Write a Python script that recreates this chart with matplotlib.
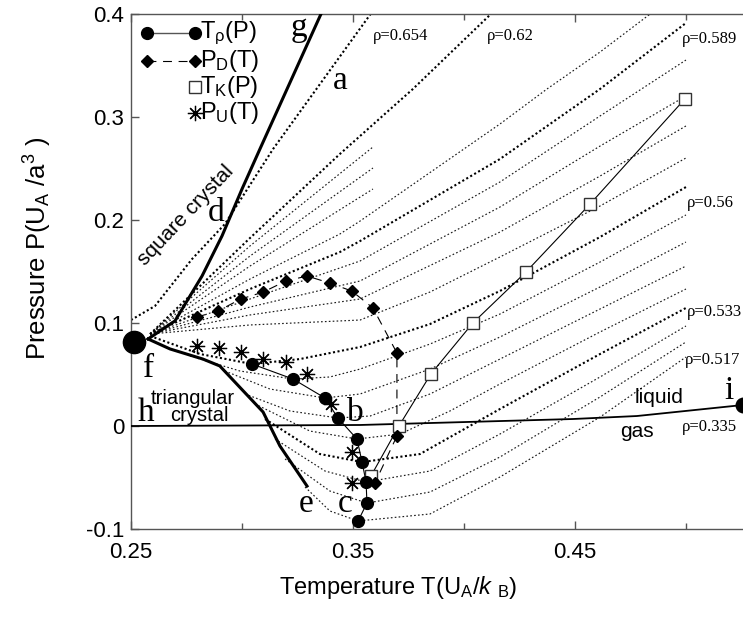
import matplotlib.pyplot as plt
from matplotlib.ticker import FixedLocator, FixedFormatter

plt.rcParams['font.family'] = ['Liberation Sans', 'DejaVu Sans']
plt.rcParams['mathtext.fontset'] = 'custom'
plt.rcParams['mathtext.rm'] = 'Liberation Sans'
plt.rcParams['mathtext.it'] = 'Liberation Sans:italic'
plt.rcParams['mathtext.bf'] = 'Liberation Sans:bold'

# --- isochores, (T, P) ---
iso_654 = [(0.2500, 0.1029), (0.2608, 0.1165), (0.2775, 0.1621), (0.2923, 0.1961),
           (0.3140, 0.2689), (0.3586, 0.4020)]
iso_620 = [(0.2586, 0.0893), (0.3036, 0.1825), (0.3441, 0.2641), (0.3770, 0.3272),
           (0.4131, 0.4020)]
iso_589 = [(0.2586, 0.0893), (0.3036, 0.1330), (0.3441, 0.1689), (0.3532, 0.1796),
           (0.4162, 0.2592), (0.4613, 0.3272), (0.5000, 0.3913)]
iso_560 = [(0.2586, 0.0874), (0.2811, 0.0699), (0.3045, 0.0602), (0.3261, 0.0650),
           (0.3532, 0.0767), (0.3847, 0.0990), (0.4162, 0.1311), (0.4613, 0.1835),
           (0.5000, 0.2320)]
iso_533 = [(0.3104, 0.0068), (0.3351, -0.0272), (0.3541, -0.0350), (0.3802, -0.0272),
           (0.4162, 0.0165), (0.4613, 0.0699), (0.5000, 0.1146)]
iso_517 = [(0.3284, -0.0592), (0.3396, -0.0825), (0.3523, -0.0922), (0.3847, -0.0854),
           (0.4162, -0.0495), (0.4613, 0.0087), (0.5000, 0.0670)]

# short high-density runs (stop at T = 0.36)
iso_s1 = [(0.2586, 0.0893), (0.3036, 0.1748), (0.3590, 0.2709)]
iso_s2 = [(0.2586, 0.0893), (0.3036, 0.1650), (0.3590, 0.2505)]
iso_s3 = [(0.2586, 0.0893), (0.3036, 0.1553), (0.3590, 0.2301)]

# intermediate isochores
iso_t1 = [(0.2586, 0.0893), (0.3036, 0.1427), (0.3441, 0.1864), (0.3532, 0.1990),
          (0.4162, 0.2932), (0.4374, 0.3272), (0.4613, 0.3631), (0.4851, 0.4020)]
iso_t2 = [(0.2586, 0.0893), (0.3036, 0.1233), (0.3532, 0.1602), (0.4162, 0.2369),
          (0.4613, 0.3010), (0.5000, 0.3553)]
iso_t3 = [(0.2586, 0.0893), (0.3036, 0.1155), (0.3532, 0.1408), (0.4162, 0.2126),
          (0.4613, 0.2718), (0.5000, 0.3204)]
iso_t4 = [(0.2586, 0.0893), (0.3036, 0.1078), (0.3532, 0.1233), (0.4162, 0.1883),
          (0.4613, 0.2427), (0.5000, 0.2913)]
iso_t5 = [(0.2586, 0.0893), (0.3036, 0.0981), (0.3532, 0.1029), (0.3847, 0.1301),
          (0.4162, 0.1641), (0.4613, 0.2136), (0.5000, 0.2602)]
iso_t6 = [(0.2766, 0.0680), (0.2991, 0.0534), (0.3230, 0.0456), (0.3396, 0.0476),
          (0.3532, 0.0553), (0.3847, 0.0796), (0.4162, 0.1087), (0.4613, 0.1592),
          (0.5000, 0.2049)]
iso_t7 = [(0.2923, 0.0534), (0.3126, 0.0359), (0.3374, 0.0272), (0.3532, 0.0311),
          (0.3847, 0.0553), (0.4162, 0.0864), (0.4613, 0.1350), (0.5000, 0.1786)]
iso_t8 = [(0.3014, 0.0311), (0.3216, 0.0146), (0.3432, 0.0078), (0.3577, 0.0097),
          (0.3847, 0.0311), (0.4162, 0.0650), (0.4613, 0.1136), (0.5000, 0.1553)]
iso_t9 = [(0.3059, 0.0214), (0.3306, -0.0049), (0.3518, -0.0126), (0.3712, -0.0078),
          (0.3937, 0.0146), (0.4162, 0.0408), (0.4613, 0.0913), (0.5000, 0.1330)]
iso_t10 = [(0.3149, -0.0126), (0.3374, -0.0437), (0.3559, -0.0544), (0.3847, -0.0437),
           (0.4162, -0.0078), (0.4613, 0.0476), (0.5000, 0.0971)]
iso_t11 = [(0.3194, -0.0320), (0.3396, -0.0631), (0.3563, -0.0748), (0.3847, -0.0641),
           (0.4162, -0.0301), (0.4613, 0.0282), (0.5000, 0.0816)]

thick_isochores = [iso_654, iso_620, iso_589, iso_560, iso_533]
thin_isochores = [iso_s1, iso_s2, iso_s3, iso_t1, iso_t2, iso_t3, iso_t4, iso_t5,
                  iso_t6, iso_t7, iso_t8, iso_t9, iso_t10, iso_t11, iso_517]

# --- phase boundaries ---
fg_T = [0.2577, 0.2698, 0.2820, 0.2910, 0.3000, 0.3081, 0.3360]
fg_P = [0.0845, 0.1020, 0.1456, 0.1845, 0.2300, 0.2690, 0.4020]
fe_T = [0.2577, 0.2676, 0.2824, 0.2900, 0.3095, 0.3171, 0.3293]
fe_P = [0.0845, 0.0748, 0.0650, 0.0583, 0.0136, -0.0194, -0.0583]
hi_T = [0.2500, 0.3532, 0.4491, 0.4779, 0.5257]
hi_P = [0.0000, 0.0010, 0.0068, 0.0097, 0.0204]
triple_T, triple_P = 0.2514, 0.0816
crit_T, crit_P = 0.5255, 0.0200

# --- anomaly lines ---
trho_T = [0.3045, 0.3230, 0.3374, 0.3432, 0.3518, 0.3541, 0.3559, 0.3563, 0.3523]
trho_P = [0.0602, 0.0456, 0.0272, 0.0078, -0.0126, -0.0350, -0.0544, -0.0748, -0.0922]
pd_T = [0.2797, 0.2892, 0.2995, 0.3095, 0.3198, 0.3293, 0.3396, 0.3495, 0.3590,
        0.3698, 0.3698, 0.3599]
pd_P = [0.1058, 0.1117, 0.1233, 0.1300, 0.1408, 0.1456, 0.1388, 0.1310, 0.1146,
        0.0709, -0.0097, -0.0553]
tk_T = [0.3581, 0.3707, 0.3851, 0.4040, 0.4279, 0.4568, 0.4995]
tk_P = [-0.0485, 0.0000, 0.0505, 0.1000, 0.1495, 0.2155, 0.3175]
pu_T = [0.2797, 0.2896, 0.2995, 0.3095, 0.3198, 0.3293, 0.3400, 0.3495, 0.3495]
pu_P = [0.0777, 0.0757, 0.0718, 0.0650, 0.0621, 0.0505, 0.0214, -0.0252, -0.0553]

fig = plt.figure(figsize=(7.43, 6.17), dpi=100)
ax = fig.add_axes([0.1763, 0.1426, 0.8237, 0.8347])

for pts in thin_isochores:
    t, p = zip(*pts)
    ax.plot(t, p, color='#1a1a1a', lw=0.85, ls=(0, (1.4, 1.9)), zorder=1)
for pts in thick_isochores:
    t, p = zip(*pts)
    ax.plot(t, p, color='black', lw=1.5, ls=(0, (1.0, 1.2)), zorder=1)

ax.plot(fg_T, fg_P, color='black', lw=2.2, zorder=3)
ax.plot(fe_T, fe_P, color='black', lw=2.2, zorder=3)
ax.plot(hi_T, hi_P, color='black', lw=1.3, zorder=3)
ax.plot([triple_T], [triple_P], 'o', color='black', ms=16, zorder=5, clip_on=False)
ax.plot([crit_T], [crit_P], 'o', color='black', ms=10.5, zorder=5, clip_on=False)

ax.plot(tk_T, tk_P, color='black', lw=0.8, zorder=2)
ax.plot(tk_T, tk_P, 's', ms=8.5, mfc='white', mec='#333333', mew=1.0, zorder=4)
ax.plot(pd_T, pd_P, color='black', lw=0.8, ls=(0, (8, 6)), zorder=2)
ax.plot(pd_T, pd_P, 'D', ms=6.5, color='black', zorder=4)
ax.plot(trho_T, trho_P, color='black', lw=0.8, zorder=2)
ax.plot(trho_T, trho_P, 'o', ms=8.5, color='black', zorder=4)
ax.plot(pu_T, pu_P, ls='none', marker=(8, 2, 0), ms=11, color='black', mew=0.9, zorder=4)

# region letters
serif = ['Liberation Serif', 'DejaVu Serif']
letters = [('g', 0.3257, 0.3786), ('a', 0.3441, 0.3272), ('d', 0.2883, 0.1990),
           ('f', 0.2577, 0.0476), ('h', 0.2568, 0.0049), ('b', 0.3509, 0.0049),
           ('c', 0.3464, -0.0835), ('e', 0.3288, -0.0835), ('i', 0.5194, 0.0262)]
for s, x, y in letters:
    ax.text(x, y, s, family=serif, fontsize=24, ha='center', va='baseline', zorder=6)

rho_labels = [('ρ=0.654', 0.3590, 0.3748), ('ρ=0.62', 0.4104, 0.3748),
              ('ρ=0.589', 0.4982, 0.3718), ('ρ=0.56', 0.5005, 0.2126),
              ('ρ=0.533', 0.5005, 0.1068), ('ρ=0.517', 0.4995, 0.0602),
              ('ρ=0.335', 0.4982, -0.0049)]
for s, x, y in rho_labels:
    ax.text(x, y, s, family=serif, fontsize=12, ha='left', va='baseline', zorder=6)

ax.text(0.2590, 0.0210, 'triangular', fontsize=14.5, ha='left', va='baseline', zorder=6)
ax.text(0.2676, 0.0050, 'crystal', fontsize=14.5, ha='left', va='baseline', zorder=6)
ax.text(0.2748, 0.2049, 'square crystal', fontsize=15, rotation=46.5,
        rotation_mode='anchor', ha='center', va='center', zorder=6)
ax.text(0.4770, 0.0223, 'liquid', fontsize=15, ha='left', va='baseline', zorder=6)
ax.text(0.4703, -0.0107, 'gas', fontsize=15, ha='left', va='baseline', zorder=6)

# legend drawn in axes coordinates
tr = ax.transAxes
lx0, lx1, ltx = 0.026, 0.1046, 0.113
rows = [0.963, 0.909, 0.858, 0.808]
ax.plot([lx0, lx1], [rows[0]] * 2, color='#555555', lw=1.0, marker='o', ms=8.5,
        mfc='black', mec='black', transform=tr, zorder=6)
ax.plot([lx0, lx1], [rows[1]] * 2, color='black', lw=0.8, ls=(0, (8, 6)), marker='D',
        ms=6.5, mfc='black', mec='black', transform=tr, zorder=6)
ax.plot([lx1], [rows[2]], 's', ms=8.5, mfc='white', mec='#333333', mew=1.0,
        transform=tr, zorder=6)
ax.plot([lx1], [rows[3]], ls='none', marker=(8, 2, 0), ms=11, color='black', mew=0.9,
        transform=tr, zorder=6)
legend_text = ['T$_{\\mathrm{ρ}}$(P)', 'P$_{\\mathrm{D}}$(T)',
               'T$_{\\mathrm{K}}$(P)', 'P$_{\\mathrm{U}}$(T)']
for s, y in zip(legend_text, rows):
    ax.text(ltx, y, s, fontsize=17, ha='left', va='center', transform=tr, zorder=6)

ax.set_xlim(0.25, 0.5257)
ax.set_ylim(-0.1, 0.4)

ax.xaxis.set_major_locator(FixedLocator([0.25, 0.35, 0.45]))
ax.xaxis.set_major_formatter(FixedFormatter(['0.25', '0.35', '0.45']))
ax.xaxis.set_minor_locator(FixedLocator([0.30, 0.40, 0.50]))
ax.yaxis.set_major_locator(FixedLocator([-0.1, 0.0, 0.1, 0.2, 0.3, 0.4]))
ax.yaxis.set_major_formatter(FixedFormatter(['-0.1', '0', '0.1', '0.2', '0.3', '0.4']))
ax.tick_params(which='both', direction='in', top=True, right=False, color='#555555')
ax.tick_params(which='major', length=6, width=1.0, labelsize=16)
ax.tick_params(which='minor', length=4, width=1.0)
ax.tick_params(axis='x', pad=9)
ax.tick_params(axis='y', pad=5)
ax.spines['right'].set_visible(False)
for side in ('left', 'top', 'bottom'):
    ax.spines[side].set_color('#555555')
    ax.spines[side].set_linewidth(1.0)

ax.set_xlabel('Temperature T(U$_{\\mathrm{A}}$/$k$ $_{\\mathrm{B}}$)', fontsize=17)
ax.set_ylabel('Pressure P(U$_{\\mathrm{A}}$ /a$^{\\mathrm{3}}$ )', fontsize=18.5)
ax.xaxis.set_label_coords(0.436, -0.087)
ax.yaxis.set_label_coords(-0.126, 0.545)

fig.savefig('out.png', dpi=100)
